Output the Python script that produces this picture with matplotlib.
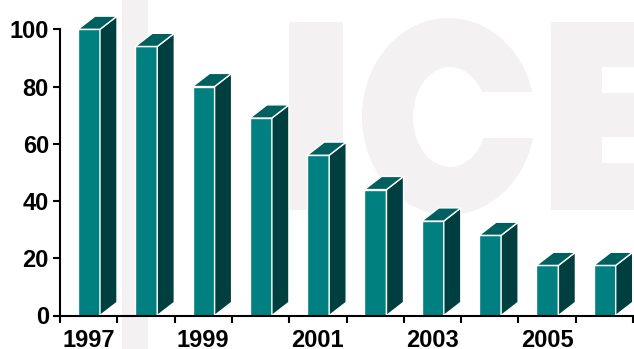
import numpy as np
from matplotlib import pyplot as plt
from matplotlib.patches import Rectangle, Polygon, Ellipse

plt.rcParams['font.family'] = ['Liberation Sans', 'DejaVu Sans']

# Index values per year
years = [1997, 1998, 1999, 2000, 2001, 2002, 2003, 2004, 2005, 2006]
values = [100, 94, 80, 69, 56, 44, 33, 28, 17.5, 17.5]
label_years = [1997, 1999, 2001, 2003, 2005]
yticks = [0, 20, 40, 60, 80, 100]

front_col = '#008080'
side_col = '#003f3f'
top_col = '#006060'
mark_col = '#f3f1f2'

W, H = 634, 349
fig = plt.figure(figsize=(W/100, H/100), dpi=100)

# background logo, pixel coordinates
bg = fig.add_axes([0, 0, 1, 1], zorder=0)
bg.set_xlim(0, W)
bg.set_ylim(H, 0)
bg.axis('off')
bg.add_patch(Rectangle((122, 0), 26, H, color=mark_col, lw=0))
# I
bg.add_patch(Rectangle((289, 22), 54, 188, color=mark_col, lw=0))
# C
bg.add_patch(Ellipse((448.5, 116.5), 173, 197, color=mark_col, lw=0))
bg.add_patch(Ellipse((450, 117), 74, 100, color='white', lw=0))
bg.add_patch(Rectangle((450, 92), 90, 46, color='white', lw=0))
# E
bg.add_patch(Rectangle((551, 22), 90, 188, color=mark_col, lw=0))
bg.add_patch(Rectangle((602, 67), 40, 26, color='white', lw=0))
bg.add_patch(Rectangle((602, 137), 40, 26, color='white', lw=0))

ax = fig.add_axes([60/W, (H-315.5)/H, 573/W, (315.5-29.3)/H], zorder=1)
ax.patch.set_alpha(0)

x0s = np.arange(len(values)) + 0.314
w = 0.384
dx = 0.297
dy = 4.6

for x0, v in zip(x0s, values):
    x1 = x0 + w
    ax.add_patch(Rectangle((x0, 0), w, v, fc=front_col, ec='white', lw=1, clip_on=False, zorder=3))
    ax.add_patch(Polygon([(x1, 0), (x1+dx, dy), (x1+dx, v+dy), (x1, v)],
                         fc=side_col, ec='white', lw=1, clip_on=False, zorder=3))
    ax.add_patch(Polygon([(x0, v), (x1, v), (x1+dx, v+dy), (x0+dx, v+dy)],
                         fc=top_col, ec='white', lw=1, clip_on=False, zorder=3))

ax.set_xlim(0, 10)
ax.set_ylim(0, 100)
for s in ['top', 'right']:
    ax.spines[s].set_visible(False)
for s in ['left', 'bottom']:
    ax.spines[s].set_linewidth(1.5)
    ax.spines[s].set_zorder(4)

ax.set_yticks(yticks)
ax.set_yticklabels([str(t) for t in yticks], fontsize=17, fontweight='bold')
ax.tick_params(axis='y', length=5, width=1.5, pad=3)

ax.set_xticks(np.arange(0, 11))
ax.set_xticklabels([])
ax.tick_params(axis='x', which='major', length=5, width=1.5)
ax.set_xticks([years.index(y) + 0.5 for y in label_years], minor=True)
ax.set_xticklabels([str(y) for y in label_years], minor=True, fontsize=17, fontweight='bold')
ax.tick_params(axis='x', which='minor', length=0, pad=10)

fig.savefig('out.png', dpi=100)
